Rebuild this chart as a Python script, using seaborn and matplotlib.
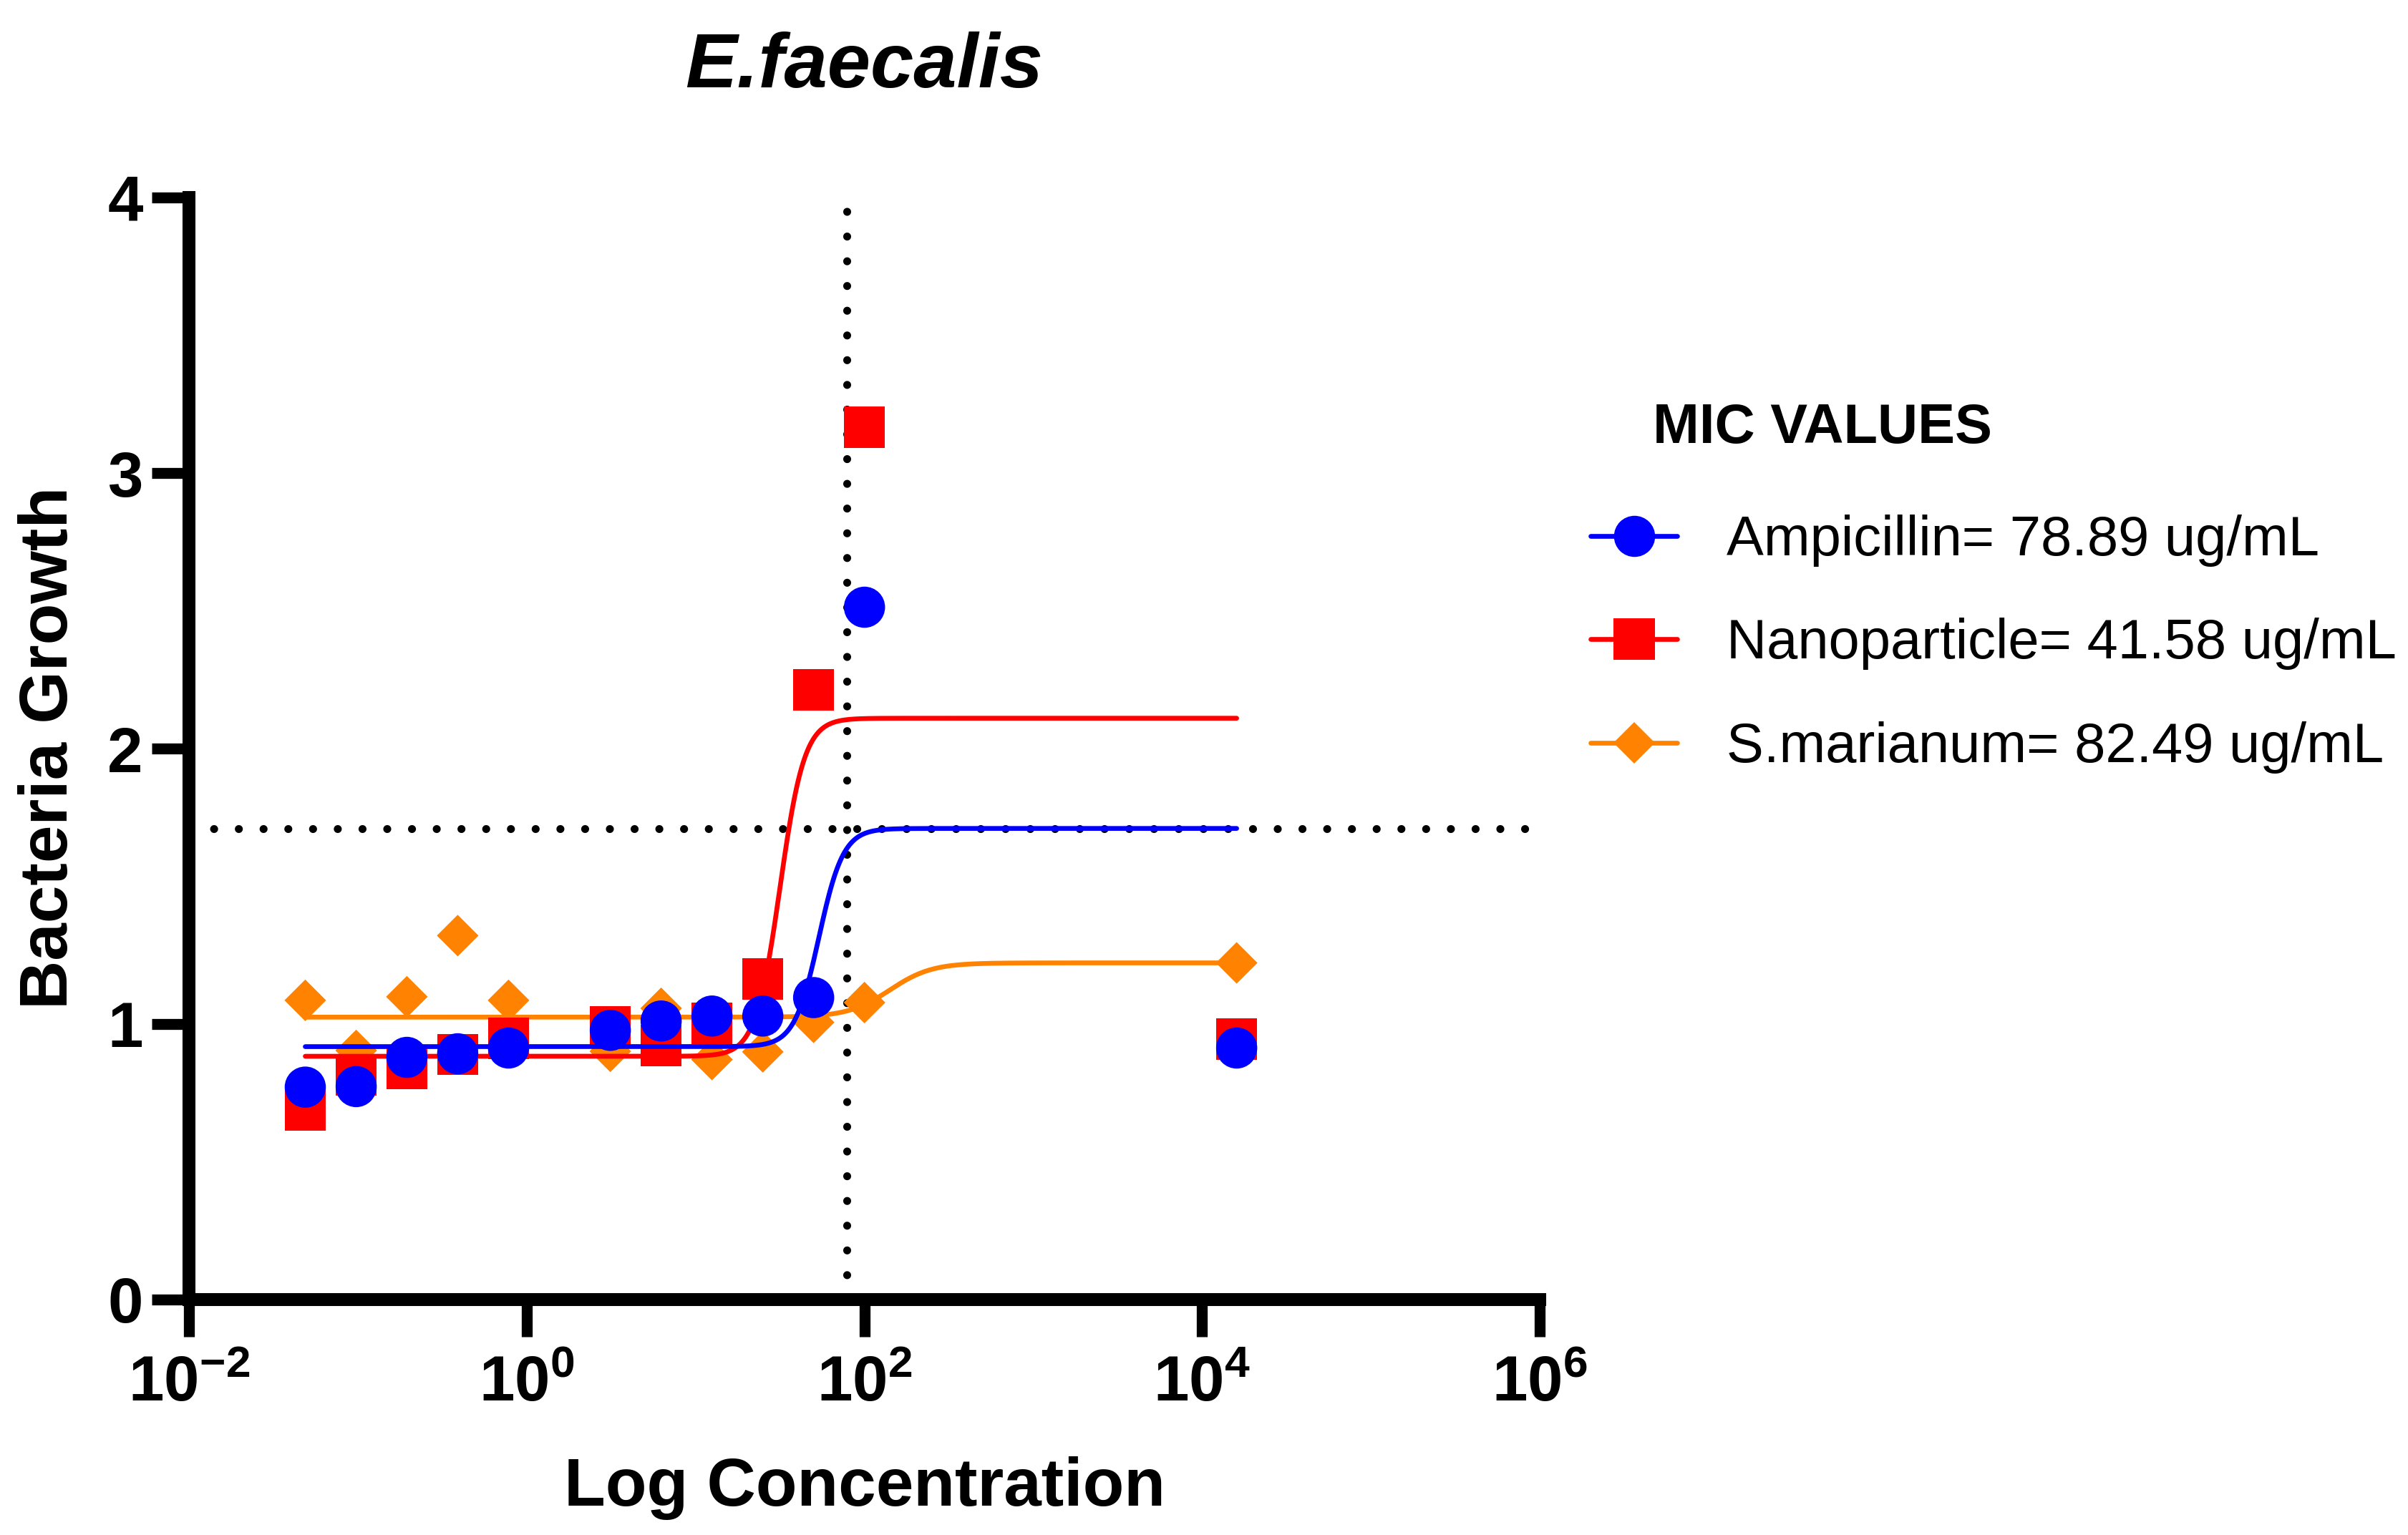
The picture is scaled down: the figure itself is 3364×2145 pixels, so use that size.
import numpy as np
import pandas as pd
import matplotlib
matplotlib.use("Agg")
import matplotlib.pyplot as plt
import seaborn as sns
from matplotlib.lines import Line2D
from matplotlib.ticker import FixedLocator, NullLocator

# concentrations (ug/mL) and measured growth
conc = [0.0488, 0.0977, 0.195, 0.39, 0.78, 3.125, 6.25, 12.5, 25, 50, 100, 16000]
ampicillin = [0.771, 0.773, 0.879, 0.892, 0.913, 0.977, 1.011, 1.029, 1.029, 1.096, 2.513, 0.913]
nanoparticle = [0.688, 0.815, 0.837, 0.889, 0.948, 0.990, 0.922, 1.003, 1.163, 2.213, 3.166, 0.945]
s_marianum = [1.086, 0.904, 1.099, 1.321, 1.086, 0.901, 1.057, 0.871, 0.899, 1.006, 1.078, 1.222]

# fitted 4PL parameters: bottom, top, logEC50, hill slope
fit_ampicillin = [0.918, 1.71, 1.73, 6.0]
fit_nanoparticle = [0.883, 2.11, 1.50, 6.0]
fit_s_marianum = [1.025, 1.222, 2.15, 3.5]

labels = ["Ampicillin= 78.89 ug/mL", "Nanoparticle= 41.58 ug/mL", "S.marianum= 82.49 ug/mL"]
colors = ["#0000FF", "#FF0000", "#FF8200"]
markers = ["o", "s", "D"]

mic_line_x = 78.89
cutoff_y = 1.71

xticks = [1e-2, 1e0, 1e2, 1e4, 1e6]
xticklabels = [r"$10^{-2}$", r"$10^{0}$", r"$10^{2}$", r"$10^{4}$", r"$10^{6}$"]
yticks = [0, 1, 2, 3, 4]

sns.set_style("ticks")
plt.rcParams["font.family"] = ["Liberation Sans", "DejaVu Sans"]
plt.rcParams["mathtext.fontset"] = "custom"
plt.rcParams["mathtext.rm"] = "Liberation Sans:bold"
plt.rcParams["mathtext.it"] = "Liberation Sans:bold"
plt.rcParams["mathtext.bf"] = "Liberation Sans:bold"
plt.rcParams["mathtext.default"] = "rm"
for key in ["text.color", "axes.labelcolor", "xtick.color", "ytick.color", "axes.edgecolor"]:
    plt.rcParams[key] = "black"

fig = plt.figure(figsize=(16.82, 10.725), dpi=200)
ax = fig.add_axes([0.0785, 0.1534, 0.561, 0.7179])


def four_pl(x, p):
    bottom, top, logec50, hill = p
    return bottom + (top - bottom) / (1 + 10 ** ((logec50 - np.log10(x)) * hill))


xs = np.logspace(np.log10(conc[0]), np.log10(conc[-1]), 600)

series = [
    (s_marianum, fit_s_marianum, 2, 14.8),
    (nanoparticle, fit_nanoparticle, 1, 20.7),
    (ampicillin, fit_ampicillin, 0, 20.7),
]

z = 3
for vals, fit, i, ms in series:
    df = pd.DataFrame({"x": xs, "y": four_pl(xs, fit)})
    sns.lineplot(data=df, x="x", y="y", color=colors[i], lw=2.4, ax=ax, zorder=z, legend=False)
    pts = pd.DataFrame({"conc": conc, "growth": vals})
    sns.scatterplot(data=pts, x="conc", y="growth", marker=markers[i], s=ms ** 2,
                    color=colors[i], edgecolor="none", linewidth=0, ax=ax, zorder=z + 0.1,
                    legend=False)
    z += 0.2

dot_style = dict(color="black", lw=4, linestyle=(0, (0.01, 3.1)), dash_capstyle="round", zorder=2.5)
ax.axvline(mic_line_x, **dot_style)
ax.axhline(cutoff_y, **dot_style)

ax.set_xscale("log")
ax.set_xlim(1e-2, 1e6)
ax.set_ylim(0, 4)
ax.xaxis.set_major_locator(FixedLocator(xticks))
ax.xaxis.set_minor_locator(NullLocator())
ax.set_xticklabels(xticklabels)
ax.set_yticks(yticks)
ax.set_yticklabels([str(v) for v in yticks], fontweight="bold")
ax.set_xlabel("")
ax.set_ylabel("")

for s in ["top", "right"]:
    ax.spines[s].set_visible(False)
for s in ["left", "bottom"]:
    ax.spines[s].set_linewidth(6.5)
    ax.spines[s].set_color("black")
ax.tick_params(axis="both", width=5.5, length=18.7, labelsize=32, color="black", labelcolor="black")
ax.tick_params(axis="x", pad=9)
ax.tick_params(axis="y", pad=4.5)

fig.text(0.3589, 0.9433, "E.faecalis", fontsize=39, fontweight="bold", fontstyle="italic",
         ha="center", va="baseline", color="black")
fig.text(0.359, 0.0191, "Log Concentration", fontsize=34, fontweight="bold",
         ha="center", va="baseline", color="black")
fig.text(0.02803, 0.513, "Bacteria Growth", fontsize=34, fontweight="bold", rotation=90,
         rotation_mode="anchor", ha="center", va="baseline", color="black")

handles = [
    Line2D([0], [0], color=colors[0], lw=2.4, marker="o", markersize=20.7, markeredgewidth=0),
    Line2D([0], [0], color=colors[1], lw=2.4, marker="s", markersize=20.7, markeredgewidth=0),
    Line2D([0], [0], color=colors[2], lw=2.4, marker="D", markersize=14.8, markeredgewidth=0),
]
leg = ax.legend(handles, labels, loc="center left", bbox_to_anchor=(0.6605, 0.5805),
                bbox_transform=fig.transFigure, frameon=False, fontsize=28,
                handlelength=1.56, handletextpad=0.89, labelspacing=0.92,
                borderpad=0, borderaxespad=0)
for t in leg.get_texts():
    t.set_color("black")
fig.text(0.6864, 0.721, "MIC VALUES", fontsize=28, fontweight="bold", va="center", color="black")

fig.savefig("out.png", dpi=200)
